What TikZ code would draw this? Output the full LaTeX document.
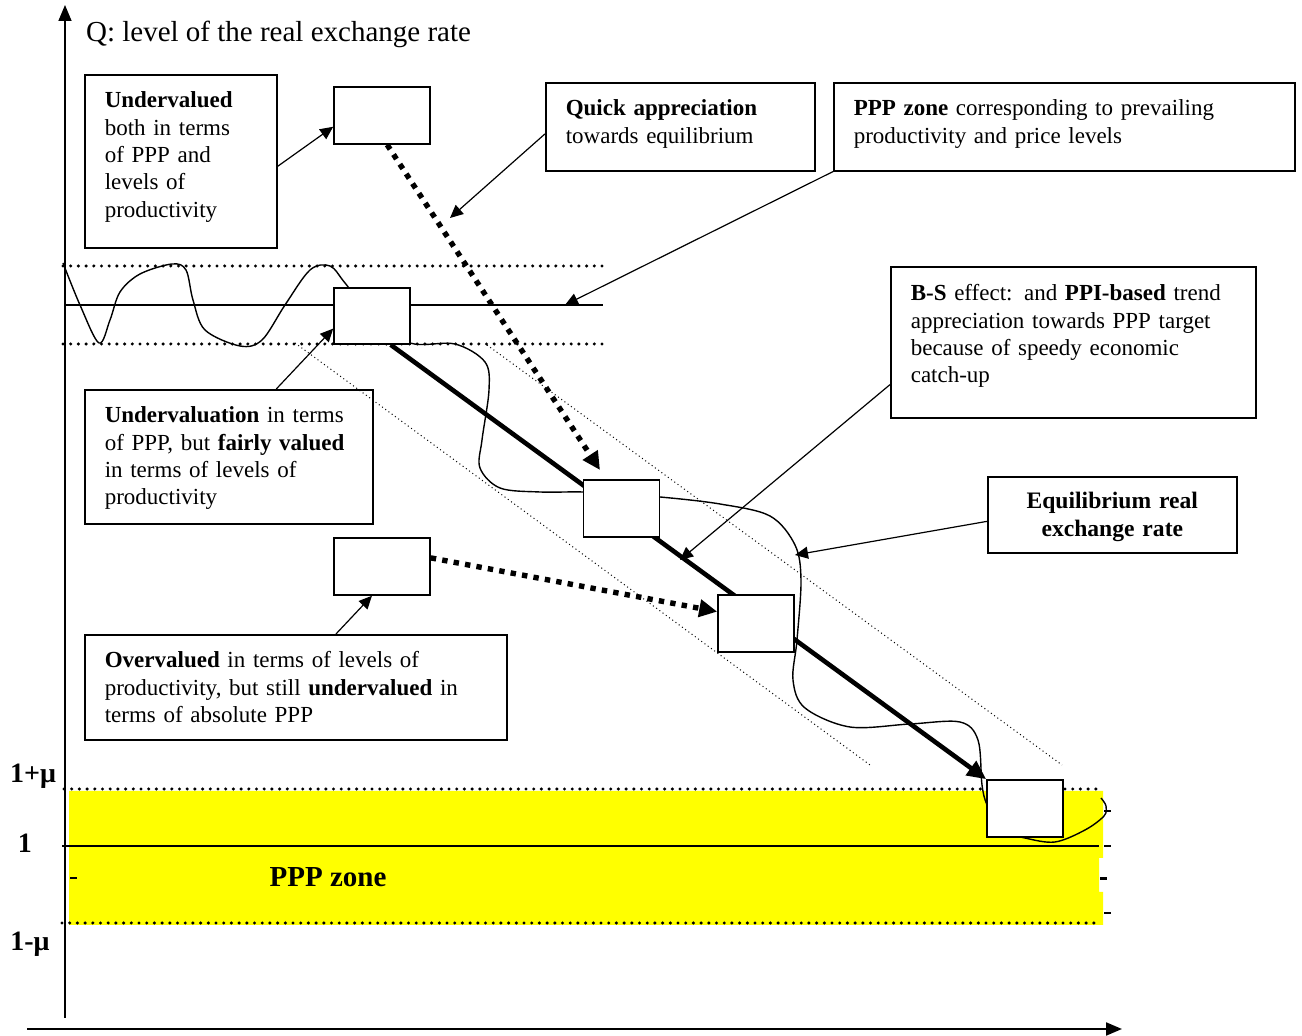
\documentclass[tikz,border=0pt]{standalone}
\usepackage{fontspec}
\setmainfont{Liberation Serif}
\usetikzlibrary{arrows.meta, backgrounds}

\definecolor{zoneyellow}{RGB}{255,255,0}
\tikzstyle{txtbox} = [draw=black, line width=0.8pt, anchor=north west, inner xsep=10pt, inner ysep=0pt, align=left, font=\fontsize{11.5}{13.7}\selectfont]
\tikzstyle{pbox} = [rectangle, draw=black, fill=white, line width=0.8pt, minimum width=38pt, minimum height=28.5pt, inner sep=0pt]
\tikzstyle{widebox} = [minimum width=48pt]
\tikzstyle{arrow} = [line width=0.6pt, -{Triangle[length=6.5pt,width=6pt]}]
\tikzstyle{bigdots} = [line width=2.7pt, dash pattern=on 2.7pt off 3.1pt, -{Triangle[length=9pt,width=8.5pt]}]
\tikzstyle{trend} = [line width=2.3pt, -{Triangle[length=9.5pt,width=8.5pt]}]
\tikzstyle{thindots} = [line width=0.5pt, dash pattern=on 0.5pt off 1.5pt]
\tikzstyle{zonedots} = [line width=1.7pt, line cap=round, dash pattern=on 0pt off 3.85pt]
\tikzstyle{wave} = [line width=0.7pt]
\tikzstyle{axlabel} = [font=\bfseries\fontsize{14}{16}\selectfont]

\begin{document}
\begin{tikzpicture}[x=0.5pt, y=-0.5pt]
    \useasboundingbox (0,0) rectangle (1302,1036);

    % axes and labels
    \coordinate (ybot) at (65,1018);
    \coordinate (ytop) at (65,5);
    \coordinate (xleft) at (27,1029);
    \coordinate (xright) at (1122,1029);
    \node (title) [anchor=west, font=\fontsize{14.5}{17}\selectfont] at (79,34) {Q: level of the real exchange rate};
    \node (upper) [axlabel] at (33,776) {1+μ};
    \node (one) [axlabel] at (25,843) {1};
    \node (lower) [axlabel] at (30,944) {1-μ};
    \node (zone) [font=\bfseries\fontsize{14.5}{17}\selectfont] at (328,877) {PPP zone};

    % small boxes
    \node (b1) [pbox, widebox] at (382,115.5) {};
    \node (b2) [pbox, minimum height=28pt] at (372,316) {};
    \node (b3) [pbox] at (621.5,508.5) {};
    \node (b4) [pbox, widebox] at (382,566.5) {};
    \node (b5) [pbox] at (756,623.5) {};
    \node (b6) [pbox] at (1025,808.5) {};

    % text boxes
    \node (t1) [txtbox, text width=76pt, text height=16.5pt, text depth=70pt] at (84,74)
        {\textbf{Undervalued}\\both in terms\\of PPP and\\levels of\\productivity};
    \node (t2) [txtbox, text width=114.5pt, text height=16.5pt, text depth=27.5pt] at (545,82)
        {\textbf{Quick appreciation}\\towards equilibrium};
    \node (t3) [txtbox, text width=210.5pt, text height=16.5pt, text depth=27.5pt] at (833,82)
        {\textbf{PPP zone} corresponding to prevailing\\productivity and price levels};
    \node (t4) [txtbox, text width=162.5pt, text height=17pt, text depth=58.5pt] at (890,266)
        {\textbf{B-S} effect: and \textbf{PPI-based} trend\\appreciation towards PPP target\\because of speedy economic\\catch-up};
    \node (t5) [txtbox, align=center, text width=104.5pt, text height=16pt, text depth=22pt, font=\bfseries\fontsize{11.8}{14}\selectfont] at (987,476)
        {Equilibrium real\\exchange rate};
    \node (t6) [txtbox, text width=124pt, text height=16.5pt, text depth=50.5pt] at (84,389)
        {\textbf{Undervaluation} in terms\\of PPP, but \textbf{fairly valued}\\in terms of levels of\\productivity};
    \node (t7) [txtbox, text width=191pt, text height=16.5pt, text depth=36pt] at (84,634)
        {\textbf{Overvalued} in terms of levels of\\productivity, but still \textbf{undervalued} in\\terms of absolute PPP};

    % free ends of the pointers
    \coordinate (qtip) at (450,218);
    \coordinate (ppptip) at (565,305);
    \coordinate (bstip) at (680,560);
    \coordinate (eqtip) at (795,555);
    \coordinate (qend) at (600,470);

    \begin{pgfonlayer}{background}
        % PPP zone
        \fill[zoneyellow] (69,791) -- (1103,791) -- (1103,858) -- (1099,858) -- (1099,892) -- (1103,892) -- (1103,925) -- (69,925) -- cycle;
        \draw[zonedots] (64,789) -- (1100,789);
        \draw[zonedots] (62,923) -- (1100,923);
        \draw[line width=0.8pt] (62,846) -- (1099,846);
        \draw[line width=1pt] (1104,811) -- (1111,811);
        \draw[line width=1pt] (1104,846) -- (1111,846);
        \draw[line width=1.5pt] (1100,879) -- (1107,879);
        \draw[line width=1pt] (1104,913) -- (1111,913);
        \draw[line width=1pt] (70,878) -- (77,878);

        % upper band
        \draw[zonedots] (63,266) -- (603,266);
        \draw[zonedots] (63,344) -- (603,344);
        \draw[line width=0.8pt] (65,305) -- (603,305);

        % trend corridor
        \draw[thindots] (295,343) -- (870,765);
        \draw[thindots] (487,345) -- (1062,765);

        % path of the real exchange rate
        \draw[wave] plot[smooth, tension=0.55] coordinates {(63,263) (80,305) (99,343) (110,320) (120,292) (140,274) (172,264) (186,270) (193,300) (205,330) (240,346) (262,340) (285,305) (310,270) (330,266) (345,283) (372,316) (410,343) (455,344) (485,362) (489,390) (482,440) (480,468) (500,488) (540,492) (583,492) (621,495) (660,497) (720,504) (770,516) (795,545) (801,580) (797,640) (793,680) (805,708) (850,727) (910,724) (960,722) (978,740) (982,785) (987,805) (1000,830) (1025,838) (1055,842) (1085,830) (1104,816) (1106,806) (1101,798)};

        % axes
        \draw[line width=0.8pt, -{Triangle[length=8pt,width=6.5pt]}] (ybot) -- (ytop);
        \draw[line width=1pt, -{Triangle[length=8pt,width=6.5pt]}] (xleft) -- (xright);

        % trend and moves
        \draw[trend] (b2.-57) -- (b6.north west);
        \draw[bigdots] (b1.-80) -- (qend);
        \draw[bigdots] (b4.10) -- (b5.163);

        % pointers
        \draw[arrow] (t1.-3) -- (b1.193);
        \draw[arrow] (t6.55) -- (b2.198);
        \draw[arrow] (t7.53) -- (b4.251);
        \draw[arrow] (t2.183) -- (qtip);
        \draw[arrow] (t3.south west) -- (ppptip);
        \draw[arrow] (t4.193) -- (bstip);
        \draw[arrow] (t5.183) -- (eqtip);
    \end{pgfonlayer}
\end{tikzpicture}
\end{document}
